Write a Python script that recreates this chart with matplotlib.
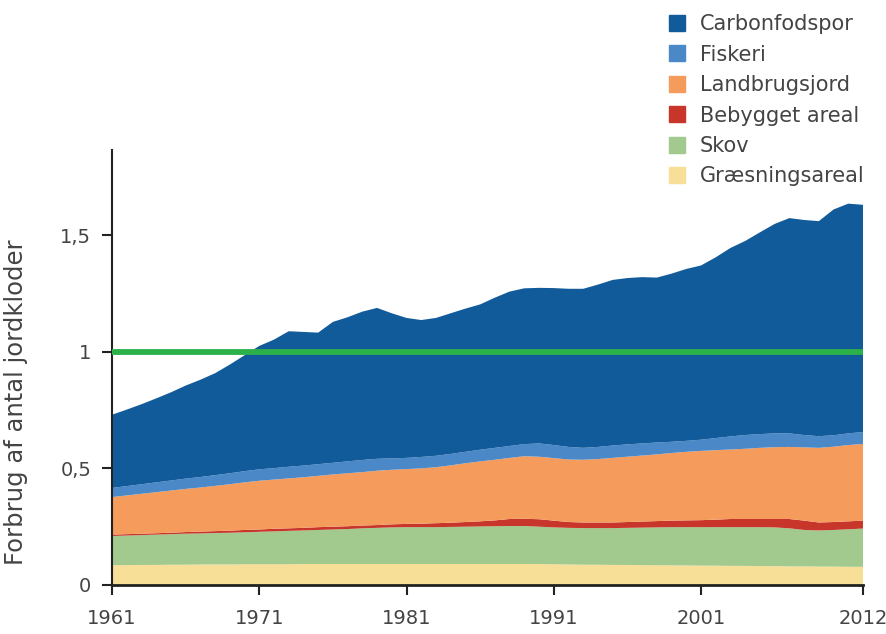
import matplotlib
matplotlib.use("Agg")
import matplotlib.pyplot as plt
import numpy as np
from matplotlib.lines import Line2D

years = list(range(1961, 2013))

# cumulative boundaries (tops of each layer)
graes_top = [0.085, 0.085, 0.086, 0.086, 0.087, 0.087, 0.088, 0.088, 0.088, 0.089,
             0.089, 0.089, 0.089, 0.090, 0.090, 0.090, 0.090, 0.090, 0.090, 0.090,
             0.090, 0.090, 0.090, 0.090, 0.090, 0.090, 0.090, 0.090, 0.090, 0.090,
             0.089, 0.088, 0.087, 0.087, 0.086, 0.086, 0.085, 0.085, 0.084, 0.084,
             0.083, 0.083, 0.082, 0.082, 0.081, 0.081, 0.080, 0.080, 0.079, 0.079,
             0.078, 0.078]
skov_top = [0.210, 0.212, 0.214, 0.216, 0.218, 0.220, 0.221, 0.223, 0.224, 0.226,
            0.228, 0.230, 0.232, 0.234, 0.236, 0.238, 0.240, 0.243, 0.245, 0.247,
            0.248, 0.248, 0.248, 0.249, 0.250, 0.251, 0.252, 0.253, 0.253, 0.250,
            0.247, 0.245, 0.244, 0.244, 0.244, 0.245, 0.246, 0.247, 0.248, 0.248,
            0.248, 0.248, 0.248, 0.248, 0.248, 0.247, 0.243, 0.236, 0.234, 0.236,
            0.239, 0.242]
bebyg_top = [0.216, 0.218, 0.220, 0.222, 0.224, 0.227, 0.229, 0.231, 0.233, 0.236,
             0.238, 0.241, 0.243, 0.245, 0.248, 0.250, 0.252, 0.255, 0.257, 0.260,
             0.262, 0.263, 0.265, 0.267, 0.270, 0.273, 0.277, 0.283, 0.284, 0.282,
             0.276, 0.270, 0.268, 0.268, 0.268, 0.270, 0.272, 0.274, 0.276, 0.277,
             0.278, 0.280, 0.283, 0.283, 0.283, 0.283, 0.283, 0.276, 0.268, 0.270,
             0.273, 0.276]
landbrug_top = [0.377, 0.384, 0.391, 0.398, 0.405, 0.412, 0.418, 0.425, 0.432, 0.440,
                0.447, 0.452, 0.457, 0.462, 0.468, 0.474, 0.479, 0.484, 0.490, 0.494,
                0.497, 0.500, 0.505, 0.513, 0.522, 0.530, 0.537, 0.545, 0.552, 0.550,
                0.544, 0.538, 0.537, 0.540, 0.545, 0.550, 0.555, 0.560, 0.566, 0.571,
                0.575, 0.578, 0.581, 0.584, 0.588, 0.591, 0.592, 0.590, 0.588, 0.593,
                0.600, 0.605]
fiskeri_top = [0.416, 0.424, 0.432, 0.440, 0.448, 0.456, 0.463, 0.471, 0.479, 0.488,
               0.496, 0.501, 0.507, 0.512, 0.518, 0.524, 0.530, 0.536, 0.541, 0.543,
               0.545, 0.549, 0.554, 0.562, 0.571, 0.580, 0.588, 0.596, 0.604, 0.607,
               0.600, 0.592, 0.588, 0.592, 0.598, 0.603, 0.607, 0.611, 0.614, 0.618,
               0.623, 0.630, 0.637, 0.643, 0.647, 0.650, 0.650, 0.643, 0.638, 0.642,
               0.650, 0.656]
total = [0.730, 0.752, 0.775, 0.800, 0.826, 0.855, 0.880, 0.908, 0.945, 0.985,
         1.025, 1.052, 1.088, 1.085, 1.082, 1.128, 1.148, 1.172, 1.188, 1.165,
         1.145, 1.136, 1.145, 1.165, 1.185, 1.203, 1.232, 1.258, 1.272, 1.274,
         1.273, 1.270, 1.270, 1.288, 1.308, 1.316, 1.320, 1.318, 1.335, 1.355,
         1.370, 1.405, 1.445, 1.475, 1.512, 1.548, 1.573, 1.565, 1.560, 1.610,
         1.635, 1.630]

labels = ["Græsningsareal", "Skov", "Bebygget areal", "Landbrugsjord", "Fiskeri", "Carbonfodspor"]
colors = ["#f8df98", "#a2c98e", "#c8352b", "#f59b5c", "#4a88c8", "#125b9b"]

tops = [graes_top, skov_top, bebyg_top, landbrug_top, fiskeri_top, total]
series = []
prev = np.zeros(len(years))
for t in tops:
    arr = np.array(t)
    series.append(arr - prev)
    prev = arr

xticks = [1961, 1971, 1981, 1991, 2001, 2012]
yticks = [0, 0.5, 1, 1.5]
ytick_labels = ["0", "0,5", "1", "1,5"]

fig = plt.figure(figsize=(8.86, 6.34), dpi=100)
ax = fig.add_axes([112/886, 49/634, 751/886, 435/634])

ax.stackplot(years, *series, colors=colors, labels=labels, linewidth=0)
ax.axhline(1.0, color="#2bb04a", linewidth=4.2, zorder=5)

ax.set_xlim(1961, 2012)
ax.set_ylim(0, 1.865)
for s in ["top", "right"]:
    ax.spines[s].set_visible(False)
ax.spines["left"].set_linewidth(1.5)
ax.spines["bottom"].set_linewidth(2.0)
ax.spines["left"].set_color("#222222")
ax.spines["bottom"].set_color("#222222")

ax.set_xticks(xticks)
ax.set_xticklabels([str(x) for x in xticks])
ax.set_yticks(yticks)
ax.set_yticklabels(ytick_labels)
ax.tick_params(axis="both", colors="#222222", labelcolor="#444444", labelsize=14,
               length=7, width=1.5)
ax.tick_params(axis="x", pad=10)
ax.tick_params(axis="y", pad=8)

ax.set_ylabel("Forbrug af antal jordkloder", fontsize=17.5, color="#444444")
ax.yaxis.set_label_coords(-0.112, 0.42)

handles = [Line2D([0], [0], marker="s", linestyle="none", markersize=11,
                  markerfacecolor=c, markeredgecolor=c) for c in colors[::-1]]
leg = fig.legend(handles, labels[::-1], loc="upper left", bbox_to_anchor=(657/886, 1 - 6/634),
                 frameon=False, fontsize=15, labelspacing=0.5, handletextpad=0.55,
                 handlelength=1.1, borderaxespad=0)
for t in leg.get_texts():
    t.set_color("#444444")

fig.savefig("out.png", dpi=100)
